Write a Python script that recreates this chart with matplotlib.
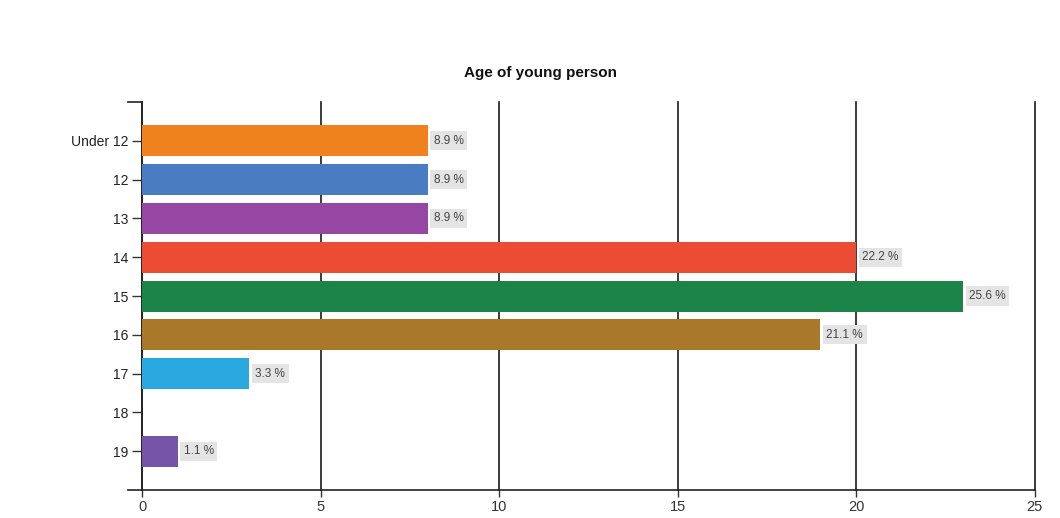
import matplotlib.pyplot as plt
import numpy as np

plt.rcParams['font.family'] = ['Liberation Sans', 'DejaVu Sans']

ages = ['Under 12', '12', '13', '14', '15', '16', '17', '18', '19']
counts = [8, 8, 8, 20, 23, 19, 3, 0, 1]
colors = ['#f0821e', '#4a7cc2', '#9547a3', '#ec4c33', '#1b8446',
          '#a97828', '#2aa8e0', '#888888', '#7654a8']

total = sum(counts)
pcts = [c / total * 100 for c in counts]

fig = plt.figure(figsize=(10.6, 5.18), dpi=100)
ax = fig.add_axes([0.134, 0.054, 0.842, 0.749])

y = np.arange(len(ages))
ax.barh(y, counts, height=0.8, color=colors, zorder=3)

for i, (c, p) in enumerate(zip(counts, pcts)):
    if c == 0:
        continue
    ax.text(c + 0.17, i, f'{p:.1f} %', va='center', ha='left', fontsize=8.5,
            color='#444444', zorder=4,
            bbox=dict(boxstyle='square,pad=0.3', fc='#e4e4e4', ec='none'))

ax.set_xlim(0, 25)
ax.set_ylim(len(ages), -1)
ax.set_xticks([0, 5, 10, 15, 20, 25])
ax.set_yticks(y)
ax.set_yticklabels(ages)
ax.tick_params(axis='y', length=7, width=1, color='#333333', labelsize=10,
               labelcolor='#222222', pad=3)
ax.tick_params(axis='x', length=5, width=1, color='#333333', labelsize=10.5,
               labelcolor='#333333', pad=2)

ax.grid(axis='x', color='#1a1a1a', linewidth=1.2, zorder=1)
for g in ax.get_xgridlines():
    g.set_clip_on(False)
for s in ['top', 'right']:
    ax.spines[s].set_visible(False)
ax.spines['left'].set_color('#222222')
ax.spines['bottom'].set_color('#222222')
ax.spines['left'].set_linewidth(1.2)
ax.spines['bottom'].set_linewidth(1.2)

# short stub at the top of the y axis and the left end of the x axis
ax.plot([-0.4, 0], [-1, -1], color='#222222', lw=1.2, clip_on=False)
ax.plot([-0.4, 0], [len(ages), len(ages)], color='#222222', lw=1.2, clip_on=False)

fig.text(0.51, 0.86, 'Age of young person', ha='center', va='center',
         fontsize=11, fontweight='bold', color='#111111')

fig.savefig('out.png', dpi=100)
